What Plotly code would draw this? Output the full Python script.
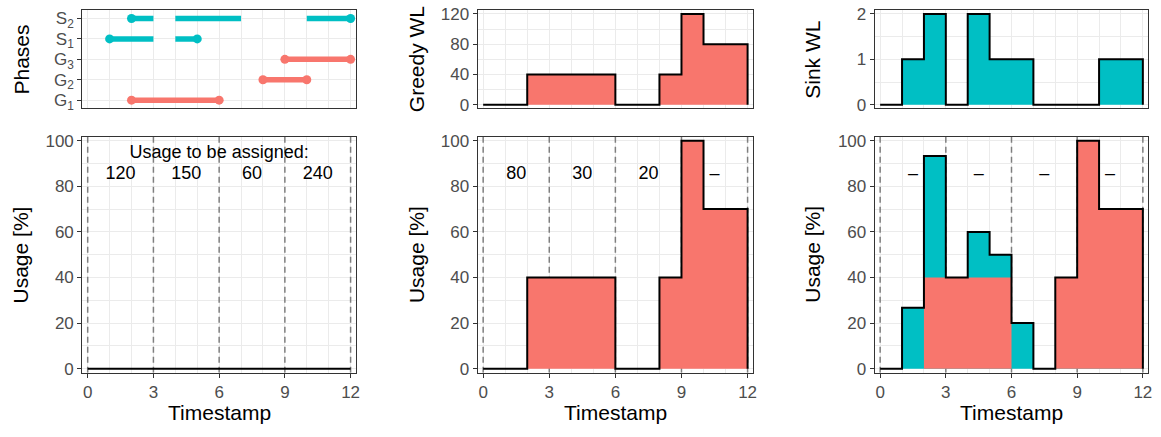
import plotly.graph_objects as go

# ---------------- data ----------------
timestamps = list(range(13))                      # interval edges 0..12
greedy_wl = [0, 0, 40, 40, 40, 40, 0, 0, 40, 120, 80, 80]
sink_wl = [0, 1, 2, 0, 2, 1, 1, 0, 0, 0, 1, 1]
baseline_usage = [0, 0, 0, 0, 0, 0, 0, 0, 0, 0, 0, 0]
greedy_usage = [0, 0, 40, 40, 40, 40, 0, 0, 40, 100, 70, 70]
sink_usage = [0, 26.7, 53.3, 0, 20, 10, 20, 0, 0, 0, 0, 0]

phase_labels = ["G<sub>1</sub>", "G<sub>2</sub>", "G<sub>3</sub>", "S<sub>1</sub>", "S<sub>2</sub>"]
phase_kind = ["G", "G", "G", "S", "S"]
phase_segments = [
    [(2, 6)],
    [(8, 10)],
    [(9, 12)],
    [(1, 3), (4, 5)],
    [(2, 3), (4, 7), (10, 12)],
]
phase_bounds = [(2, 6), (8, 10), (9, 12), (1, 5), (2, 12)]

window_edges = [0, 3, 6, 9, 12]
to_assign_labels = ["120", "150", "60", "240"]
greedy_left_labels = ["80", "30", "20", "–"]
sink_left_labels = ["–", "–", "–", "–"]
heading = "Usage to be assigned:"

# ---------------- style ----------------
RED = "#F8766D"
TEAL = "#00BFC4"
GRID = "#EBEBEB"
FONT = "Liberation Sans, Arial, sans-serif"
W, H = 1161, 437
LABEL_Y = 85
HEAD_Y = 94.5
USAGE_RANGE = [-1.8, 101.8]
X_RANGE = [-0.25, 12.25]

window_mid = [(a + b) / 2 for a, b in zip(window_edges[:-1], window_edges[1:])]


def step_xy(vals):
    xs = list(timestamps) + [timestamps[-1]]
    ys = list(vals) + [vals[-1], 0]
    return xs, ys


def add_windows(fig, xa, ya):
    for e in window_edges:
        fig.add_trace(go.Scatter(x=[e, e], y=USAGE_RANGE, mode="lines",
                                 line=dict(color="#7F7F7F", width=1.5, dash="6px,4px"),
                                 xaxis=xa, yaxis=ya, hoverinfo="skip", cliponaxis=True))


fig = go.Figure()

# ---- Phases panel (x1, y1)
for k, (kind, segs, bnd) in enumerate(zip(phase_kind, phase_segments, phase_bounds)):
    col = RED if kind == "G" else TEAL
    for a, b in segs:
        fig.add_trace(go.Scatter(x=[a, b], y=[k, k], mode="lines",
                                 line=dict(color=col, width=5.5),
                                 xaxis="x", yaxis="y", hoverinfo="skip"))
    fig.add_trace(go.Scatter(x=list(bnd), y=[k, k], mode="markers",
                             marker=dict(color=col, size=9),
                             xaxis="x", yaxis="y", hoverinfo="skip"))

# ---- Greedy WL (x2, y2)
xs, ys = step_xy(greedy_wl)
fig.add_trace(go.Scatter(x=xs, y=ys, mode="lines", line=dict(color="black", width=2, shape="hv"),
                         fill="tozeroy", fillcolor=RED, xaxis="x2", yaxis="y2"))

# ---- Sink WL (x3, y3)
xs, ys = step_xy(sink_wl)
fig.add_trace(go.Scatter(x=xs, y=ys, mode="lines", line=dict(color="black", width=2, shape="hv"),
                         fill="tozeroy", fillcolor=TEAL, xaxis="x3", yaxis="y3"))

# ---- Bottom-left (x4, y4)
add_windows(fig, "x4", "y4")
xs, ys = step_xy(baseline_usage)
fig.add_trace(go.Scatter(x=xs, y=ys, mode="lines", line=dict(color="black", width=2, shape="hv"),
                         xaxis="x4", yaxis="y4"))
fig.add_trace(go.Scatter(x=window_mid, y=[LABEL_Y] * 4, mode="text", text=to_assign_labels,
                         textfont=dict(family=FONT, size=18, color="black"),
                         xaxis="x4", yaxis="y4"))
fig.add_trace(go.Scatter(x=[(window_edges[0] + window_edges[-1]) / 2], y=[HEAD_Y], mode="text",
                         text=[heading], textfont=dict(family=FONT, size=18, color="black"),
                         xaxis="x4", yaxis="y4"))

# ---- Bottom-middle (x5, y5)
add_windows(fig, "x5", "y5")
xs, ys = step_xy(greedy_usage)
fig.add_trace(go.Scatter(x=xs, y=ys, mode="lines", line=dict(color="black", width=2, shape="hv"),
                         fill="tozeroy", fillcolor=RED, xaxis="x5", yaxis="y5"))
fig.add_trace(go.Scatter(x=window_mid, y=[LABEL_Y] * 4, mode="text", text=greedy_left_labels,
                         textfont=dict(family=FONT, size=18, color="black"),
                         xaxis="x5", yaxis="y5"))

# ---- Bottom-right (x6, y6)
add_windows(fig, "x6", "y6")
total_usage = [g + s for g, s in zip(greedy_usage, sink_usage)]
xs, ys = step_xy(total_usage)
fig.add_trace(go.Scatter(x=xs, y=ys, mode="lines", line=dict(width=0, shape="hv"),
                         fill="tozeroy", fillcolor=TEAL, xaxis="x6", yaxis="y6"))
xg, yg = step_xy(greedy_usage)
fig.add_trace(go.Scatter(x=xg, y=yg, mode="lines", line=dict(width=0, shape="hv"),
                         fill="tozeroy", fillcolor=RED, xaxis="x6", yaxis="y6"))
fig.add_trace(go.Scatter(x=xs, y=ys, mode="lines", line=dict(color="black", width=2, shape="hv"),
                         xaxis="x6", yaxis="y6"))
fig.add_trace(go.Scatter(x=window_mid, y=[LABEL_Y] * 4, mode="text", text=sink_left_labels,
                         textfont=dict(family=FONT, size=18, color="black"),
                         xaxis="x6", yaxis="y6"))

# ---------------- layout ----------------
cols = [(82.5, 357.3), (479.3, 755.7), (877.7, 1152.3)]
top = (5.5, 106.0)
bot = (135.0, 377.3)


def xd(c):
    return [c[0] / W, c[1] / W]


def yd(r):
    return [1 - r[1] / H, 1 - r[0] / H]


tickfont = dict(family=FONT, size=17, color="#4D4D4D")
common = dict(showline=True, mirror=True, linecolor="#333333", linewidth=1,
              showgrid=True, gridcolor=GRID, gridwidth=1.1, zeroline=False,
              tickfont=tickfont, tickcolor="#333333", ticklen=4, tickwidth=1)


def xaxis_cfg(col, anchor, labels):
    d = dict(common, domain=xd(cols[col]), anchor=anchor, range=X_RANGE,
             tickmode="linear", tick0=0, dtick=3,
             minor=dict(tick0=0, dtick=1, showgrid=True, gridcolor=GRID, gridwidth=0.6, ticks=""))
    if labels:
        d.update(ticks="outside", showticklabels=True)
    else:
        d.update(ticks="", showticklabels=False)
    return d


layout = dict(
    width=W, height=H, margin=dict(l=0, r=0, t=0, b=0),
    paper_bgcolor="white", plot_bgcolor="white", showlegend=False,
    xaxis=xaxis_cfg(0, "y", False),
    xaxis2=xaxis_cfg(1, "y2", False),
    xaxis3=xaxis_cfg(2, "y3", False),
    xaxis4=xaxis_cfg(0, "y4", True),
    xaxis5=xaxis_cfg(1, "y5", True),
    xaxis6=xaxis_cfg(2, "y6", True),
    yaxis=dict(common, domain=yd(top), anchor="x", range=[-0.4, 4.4], ticks="outside",
               tickmode="array", tickvals=list(range(len(phase_labels))), ticktext=phase_labels),
    yaxis2=dict(common, domain=yd(top), anchor="x2", range=[-4.8, 124.8], ticks="outside",
                tickmode="linear", tick0=0, dtick=40,
                minor=dict(tick0=0, dtick=20, showgrid=True, gridcolor=GRID, gridwidth=0.6, ticks="")),
    yaxis3=dict(common, domain=yd(top), anchor="x3", range=[-0.08, 2.08], ticks="outside",
                tickmode="linear", tick0=0, dtick=1,
                minor=dict(tick0=0, dtick=0.5, showgrid=True, gridcolor=GRID, gridwidth=0.6, ticks="")),
)
for ax, col in [("yaxis4", 0), ("yaxis5", 1), ("yaxis6", 2)]:
    layout[ax] = dict(common, domain=yd(bot), anchor="x" + str(col + 4), range=USAGE_RANGE,
                      ticks="outside", tickmode="linear", tick0=0, dtick=20,
                      minor=dict(tick0=0, dtick=10, showgrid=True, gridcolor=GRID, gridwidth=0.6, ticks=""))

titlefont = dict(family=FONT, size=21, color="black")
ann = []
for text, px, py in [("Phases", 22, 56), ("Greedy WL", 418, 56), ("Sink WL", 815, 56),
                     ("Usage [%]", 21, 256), ("Usage [%]", 418, 256), ("Usage [%]", 815, 256)]:
    ann.append(dict(text=text, x=px / W, y=1 - py / H, xref="paper", yref="paper",
                    showarrow=False, textangle=-90, font=titlefont,
                    xanchor="center", yanchor="middle"))
for col in cols:
    ann.append(dict(text="Timestamp", x=(col[0] + col[1]) / 2 / W, y=1 - 418 / H,
                    xref="paper", yref="paper", showarrow=False, font=titlefont,
                    xanchor="center", yanchor="middle"))
layout["annotations"] = ann

fig.update_layout(**layout)
fig.write_html("out.html")
